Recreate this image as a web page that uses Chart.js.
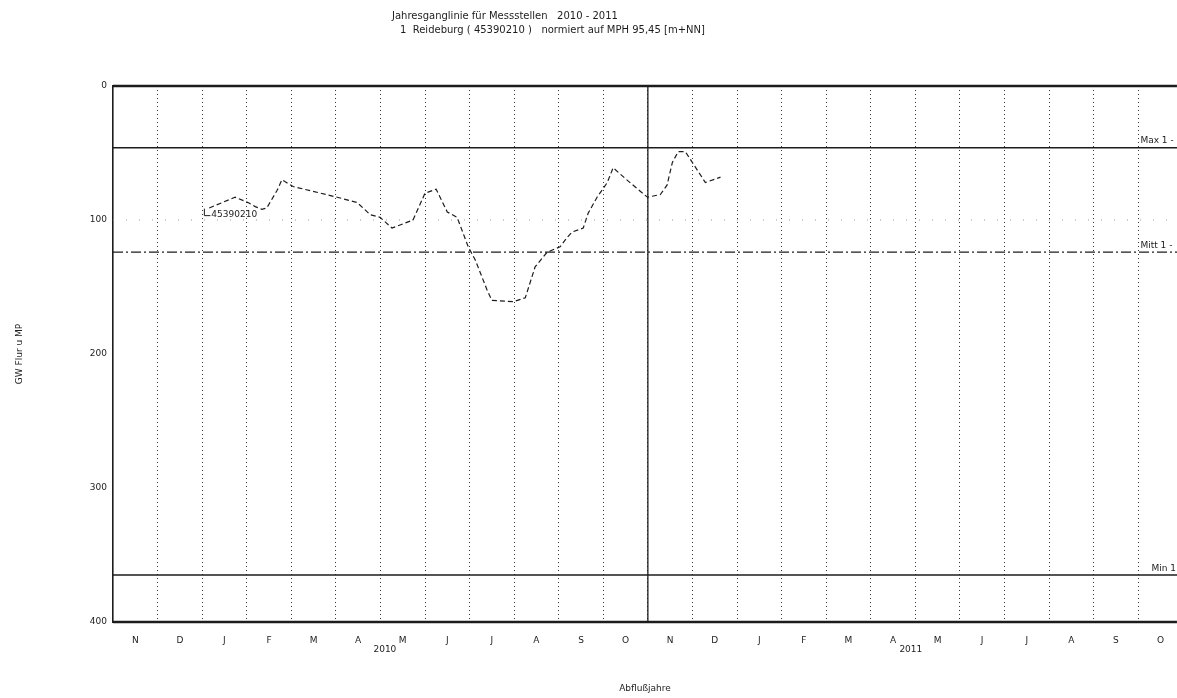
<!DOCTYPE html>
<html>
<head>
<meta charset="utf-8">
<script src="https://cdn.jsdelivr.net/npm/chart.js@4.4.1/dist/chart.umd.min.js"></script>
<style>
  html, body { margin: 0; padding: 0; background: #fff; overflow: hidden; }
  canvas { display: block; }
</style>
</head>
<body>
<canvas id="c" width="1177" height="698"></canvas>
<script>
/* Jahresganglinie 2010-2011, Messstelle Reideburg */
var monthLetters = ['N','D','J','F','M','A','M','J','J','A','S','O',
                    'N','D','J','F','M','A','M','J','J','A','S','O'];
var yearLabels = ['2010', '2011'];
var yearAt = [6.1, 17.9];                 // Monat (ab Nov 2009) unter dem das Jahr steht
var yTicks = [0, 100, 200, 300, 400];

// Messwerte: Monat ab 1. Nov 2009, Flurabstand [cm u. MP]
var obsMonth = [2.16,2.74,3.03,3.19,3.34,3.45,3.68,3.79,4.04,5.03,5.48,5.77,5.99,6.26,6.73,
                7.0,7.25,7.5,7.72,7.97,8.13,8.39,8.5,8.98,9.25,9.47,9.74,10.03,10.19,10.3,
                10.55,10.66,10.86,11.09,11.22,11.56,11.99,12.28,12.43,12.55,12.68,12.84,13.29,13.63];
var obsDepth = [91,83,87,90,92,91,78,70,75,83,87,96,98,106,100,
                80,77,94,98,120,130,152,160,161,158,135,124,120,113,109,
                106,95,83,72,61,71,83,81,74,57,49,49,72,68];

// Kennwerte
var refNames = ['Max 1 -', 'Mitt 1 -', 'Min 1 -'];
var refLevels = [46, 124, 365];
var yearSplit = 12;                        // 1. Nov 2010
var seriesLabel = '45390210';

var INK = '#1c1c1c';
var FONT = '"DejaVu Sans", sans-serif';
var X_MAX = 23.87;

function hline(v, dash, w) {
  return { data: [{ x: 0, y: v }, { x: 24, y: v }], borderColor: INK, borderWidth: w,
           borderDash: dash, pointRadius: 0, xAxisID: 'x', yAxisID: 'y' };
}

var datasets = [
  { label: seriesLabel,
    data: obsMonth.map(function (m, i) { return { x: m, y: obsDepth[i] }; }),
    borderColor: INK, borderWidth: 1.2, borderDash: [5, 3], pointRadius: 0, tension: 0,
    xAxisID: 'x', yAxisID: 'y' },
  { data: [{ x: 0, y: 100 }, { x: 24, y: 100 }], borderColor: '#9a9a9a', borderWidth: 1,
    borderDash: [1, 12], pointRadius: 0, xAxisID: 'x', yAxisID: 'y' },
  hline(refLevels[0], [], 1.5),
  hline(refLevels[1], [10, 3, 2, 3], 1.3),
  hline(refLevels[2], [], 1.5),
  { data: [{ x: yearSplit, y: 0 }, { x: yearSplit, y: 400 }], borderColor: INK, borderWidth: 1.3,
    pointRadius: 0, xAxisID: 'x', yAxisID: 'y' }
];

var decor = {
  id: 'decor',
  afterDraw: function (chart) {
    var ctx = chart.ctx, a = chart.chartArea;
    var x = chart.scales.x, y = chart.scales.y;
    ctx.save();
    // Rahmen oben/unten
    ctx.strokeStyle = INK;
    ctx.lineWidth = 2.4;
    ctx.beginPath();
    ctx.moveTo(a.left, a.top); ctx.lineTo(a.right, a.top);
    ctx.moveTo(a.left, a.bottom); ctx.lineTo(a.right, a.bottom);
    ctx.stroke();

    ctx.fillStyle = INK;
    // Titel
    ctx.font = '10px ' + FONT;
    ctx.textAlign = 'left';
    ctx.textBaseline = 'middle';
    ctx.fillText('Jahresganglinie für Messstellen   2010 - 2011', 392, 16);
    ctx.fillText('1  Reideburg ( 45390210 )   normiert auf MPH 95,45 [m+NN]', 400, 30);

    // Jahre unter der Achse
    ctx.font = '9px ' + FONT;
    ctx.textAlign = 'center';
    yearLabels.forEach(function (t, i) {
      ctx.fillText(t, x.getPixelForValue(yearAt[i]), 650);
    });

    // Kennwert-Beschriftung am rechten Rand
    ctx.textAlign = 'left';
    ctx.textBaseline = 'bottom';
    refNames.forEach(function (t, i) {
      ctx.fillText(t, x.getPixelForValue(i === 2 ? 23.3 : 23.05), y.getPixelForValue(refLevels[i]) - 2);
    });

    // Legende der Ganglinie
    var lx = x.getPixelForValue(2.05), ly = y.getPixelForValue(96);
    ctx.lineWidth = 1;
    ctx.beginPath();
    ctx.moveTo(lx, ly - 6); ctx.lineTo(lx, ly + 1); ctx.lineTo(lx + 6, ly + 1);
    ctx.stroke();
    ctx.textBaseline = 'middle';
    ctx.fillText(seriesLabel, lx + 7, ly);
    ctx.restore();
  }
};

new Chart(document.getElementById('c'), {
  type: 'line',
  data: { datasets: datasets },
  options: {
    responsive: false,
    animation: false,
    devicePixelRatio: 1,
    layout: { padding: { top: 86, right: 0, left: 0, bottom: 0 } },
    plugins: { legend: { display: false }, tooltip: { enabled: false } },
    scales: {
      y: {
        type: 'linear', reverse: true, min: 0, max: 400,
        afterBuildTicks: function (s) { s.ticks = yTicks.map(function (v) { return { value: v }; }); },
        ticks: { font: { size: 9, family: FONT }, color: INK, padding: 6 },
        grid: { display: false, drawTicks: false },
        border: { display: true, color: INK, width: 1.6 },
        title: { display: true, text: 'GW Flur u MP', font: { size: 9, family: FONT }, color: INK,
                 padding: { top: 14, bottom: 0 } },
        afterFit: function (s) { s.width = 113; }
      },
      x: {
        type: 'linear', position: 'bottom', min: 0, max: X_MAX,
        afterBuildTicks: function (s) {
          var t = [];
          for (var i = 1; i < monthLetters.length; i++) t.push({ value: i });
          s.ticks = t;
        },
        ticks: { display: false },
        grid: { color: '#333', lineWidth: 1, drawTicks: false },
        border: { display: false, dash: [1, 3] },
        afterFit: function (s) { s.height = 0; }
      },
      xl: {
        type: 'linear', position: 'bottom', min: 0, max: X_MAX,
        afterBuildTicks: function (s) {
          s.ticks = monthLetters.map(function (m, i) { return { value: i + 0.5 }; });
        },
        ticks: { autoSkip: false, maxRotation: 0, font: { size: 9, family: FONT }, color: INK, padding: 13,
                 callback: function (v) { return monthLetters[Math.floor(v)]; } },
        grid: { display: false, drawTicks: false },
        border: { display: false },
        title: { display: true, text: 'Abflußjahre', font: { size: 9, family: FONT }, color: INK,
                 padding: { top: 0, bottom: 4 } },
        afterFit: function (s) { s.height = 76; }
      }
    }
  },
  plugins: [decor]
});
</script>
</body>
</html>
